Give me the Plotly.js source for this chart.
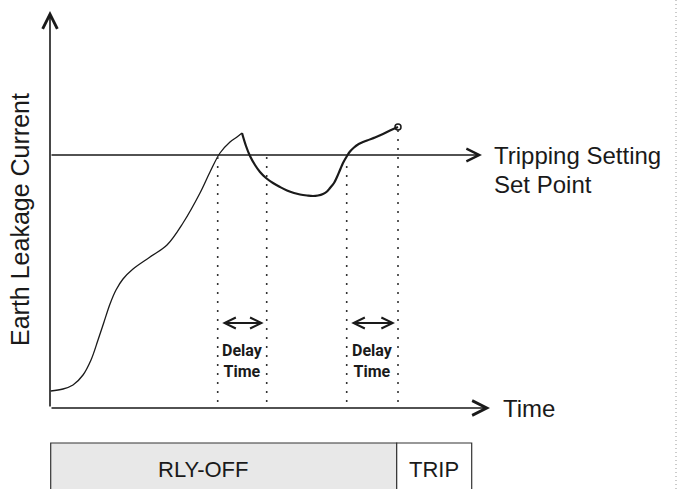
<!DOCTYPE html>
<html>
<head>
<meta charset="utf-8">
<script src="https://cdn.plot.ly/plotly-3.0.1.min.js"></script>
<style>html,body{margin:0;padding:0;background:#fff;}#chart{width:681px;height:489px;}</style>
</head>
<body>
<div id="chart"></div>
<script>
// ---- data (arbitrary units: time along x, leakage current along y) ----
const riseTime    = [0.7, 13, 23, 33, 41, 48, 54, 60, 66, 73, 83, 100, 117, 133, 150, 160, 170, 180, 187, 192];
const riseCurrent = [17, 19, 23, 33, 48, 68, 86, 104, 118, 129, 139, 151, 163, 185, 215, 236, 255, 266, 271, 275];
const fallTime    = [192, 196, 200, 205, 210, 216, 223, 230, 237, 244, 250, 257, 263, 268, 273, 277, 280, 284, 287, 290, 293, 297, 300, 304, 308, 317, 325, 333, 340, 348];
const fallCurrent = [275, 262, 252, 243, 236, 230, 225, 221, 217.5, 215, 213.5, 212.5, 212, 212.5, 214, 216.5, 220, 225, 231, 238, 245, 252, 256.5, 260.5, 263.5, 267.5, 270.5, 274, 277.5, 281];
const setPoint = 253;
const markerTimes = [167.7, 216.7, 296.7, 348];
const markerTops  = [253, 253, 247, 281];
const delayWindows = [[167.7, 216.7], [296.7, 348]];
const stateLabels = ['RLY-OFF', 'TRIP'];
const stateStart  = [0.7, 346.7];
const stateEnd    = [346.7, 421.7];
const stateFill   = ['#e8e8e8', '#ffffff'];
const timeAxisEnd = 440;
const currentAxisEnd = 397;
const setPointLineEnd = 432;

const ink = '#1a1a1a';
const traces = [
  {x: riseTime, y: riseCurrent, mode: 'lines', line: {color: ink, width: 1.3, shape: 'spline', smoothing: 1}, hoverinfo: 'skip'},
  {x: fallTime, y: fallCurrent, mode: 'lines', line: {color: ink, width: 2.2, shape: 'spline', smoothing: 1}, hoverinfo: 'skip'},
  {x: [fallTime[fallTime.length-1]], y: [fallCurrent[fallCurrent.length-1]], mode: 'markers',
   marker: {symbol: 'circle-open', size: 6, color: ink, line: {width: 1.5, color: ink}}, hoverinfo: 'skip'}
];

const shapes = [];
const annotations = [];
markerTimes.forEach((t, i) => {
  shapes.push({type: 'line', xref: 'x', yref: 'y', x0: t, x1: t, y0: 6, y1: markerTops[i],
    line: {color: '#333', width: 1.6, dash: '2px,7px'}});
});
stateLabels.forEach((s, i) => {
  shapes.push({type: 'rect', xref: 'x', yref: 'y', x0: stateStart[i], x1: stateEnd[i], y0: -35, y1: -95,
    fillcolor: stateFill[i], line: {color: '#333', width: 1.2}, layer: 'below'});
});
// right dotted border
shapes.push({type: 'line', xref: 'paper', yref: 'paper', x0: 676/681, x1: 676/681, y0: 0, y1: 1,
  line: {color: '#999', width: 1, dash: '1px,3px'}});

function arrow(x, y, ax, ay, w, side, size) {
  annotations.push({x: x, y: y, ax: ax, ay: ay, xref: 'x', yref: 'y', axref: 'x', ayref: 'y',
    text: '', showarrow: true, arrowhead: 5, startarrowhead: 5, arrowside: side || 'end',
    arrowsize: size || 1.5, startarrowsize: size || 1.5, arrowwidth: w, arrowcolor: ink, standoff: 0, startstandoff: 0});
}
// axes
arrow(0, currentAxisEnd, 0, 0, 1.6, 'end', 1.8);
arrow(timeAxisEnd, 0, 0, 0, 1.6, 'end', 1.8);
// set point line
arrow(setPointLineEnd, setPoint, 0, setPoint, 1.4, 'end', 1.8);
// delay arrows
delayWindows.forEach(w => {
  arrow(w[1] - 3, 85, w[0] + 3, 85, 2, 'end+start', 1.1);
  annotations.push({x: (w[0] + w[1]) / 2, y: 47, xref: 'x', yref: 'y', text: 'Delay<br>Time', showarrow: false,
    font: {family: 'Roboto, Arial, sans-serif', size: 16, color: ink, weight: 'bold'}, align: 'center'});
});
// labels
const labelFont = {family: 'Liberation Sans, Arial, sans-serif', size: 24, color: ink};
annotations.push({x: 451, y: 0, xref: 'x', yref: 'y', text: 'Time', showarrow: false, xanchor: 'left', yanchor: 'middle', font: labelFont});
annotations.push({x: 442, y: setPoint, xref: 'x', yref: 'y', text: 'Tripping Setting', showarrow: false, xanchor: 'left', yanchor: 'middle', font: labelFont});
annotations.push({x: 442, y: setPoint - 29, xref: 'x', yref: 'y', text: 'Set Point', showarrow: false, xanchor: 'left', yanchor: 'middle', font: labelFont});
annotations.push({x: -30, y: 188, xref: 'x', yref: 'y', text: 'Earth Leakage Current', showarrow: false, textangle: -90,
  xanchor: 'center', yanchor: 'middle', font: {family: 'Liberation Sans, Arial, sans-serif', size: 25, color: ink}});
stateLabels.forEach((s, i) => {
  const c = i === 0 ? stateStart[i] + 0.44 * (stateEnd[i] - stateStart[i]) : (stateStart[i] + stateEnd[i]) / 2;
  annotations.push({x: c, y: -61, xref: 'x', yref: 'y', text: s, showarrow: false,
    font: {family: 'Liberation Sans, Arial, sans-serif', size: 22, color: ink}});
});

const layout = {
  width: 681, height: 489, margin: {l: 0, r: 0, t: 0, b: 0},
  paper_bgcolor: '#fff', plot_bgcolor: '#fff', showlegend: false,
  xaxis: {range: [-50, 631], visible: false, fixedrange: true},
  yaxis: {range: [-81, 408], visible: false, fixedrange: true},
  shapes: shapes, annotations: annotations
};
Plotly.newPlot('chart', traces, layout, {staticPlot: true, displayModeBar: false});
</script>
</body>
</html>
